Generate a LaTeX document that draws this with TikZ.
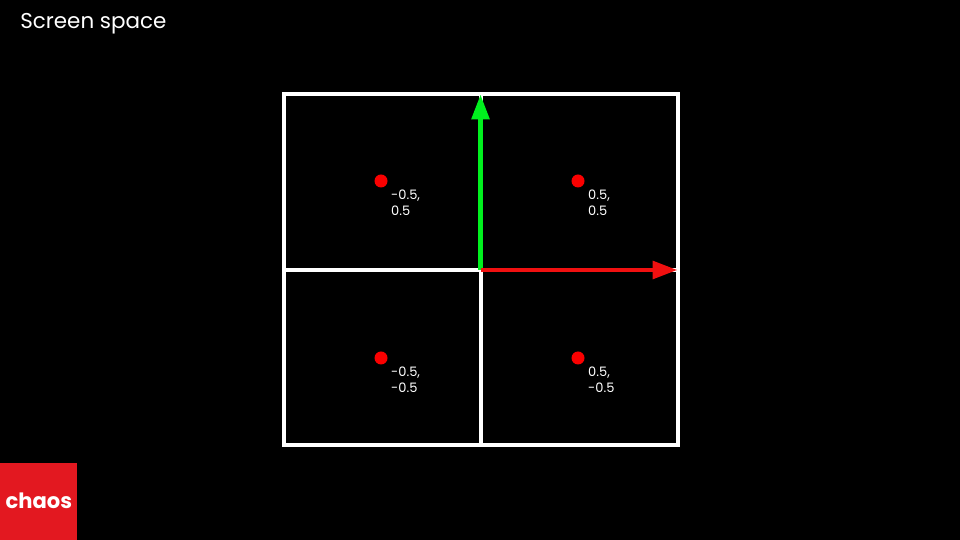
\documentclass[tikz,border=0pt]{standalone}
\usepackage{fontspec}
\setmainfont{Poppins}
\usepackage{xcolor}
\usetikzlibrary{arrows.meta, positioning}
\definecolor{chaosred}{RGB}{227, 24, 32}
\definecolor{axisred}{RGB}{240, 16, 16}
\definecolor{axisgreen}{RGB}{0, 240, 30}
\definecolor{dotred}{RGB}{250, 0, 0}
\begin{document}
\begin{tikzpicture}[
    cell/.style={draw=white, line width=0.08cm, minimum width=3.94cm,
                 minimum height=3.51cm, inner sep=0pt, outer sep=0pt},
    sample/.style={circle, fill=dotred, minimum size=0.26cm, inner sep=0pt},
    lbl/.style={text=white, font=\fontsize{7.4}{9.1}\selectfont, align=left,
                inner sep=0pt},
    arrow/.style={-{Triangle[length=0.5cm, width=0.35cm]}, line width=0.09cm},
  ]
    \useasboundingbox[fill=black] (0,0) rectangle (19.2,10.8);

    % Grid
    \coordinate (center) at (9.61,5.4);
    \node[cell, anchor=south east] (tl) at (center) {};
    \node[cell, anchor=south west] (tr) at (center) {};
    \node[cell, anchor=north east] (bl) at (center) {};
    \node[cell, anchor=north west] (br) at (center) {};

    % Samples
    \node[sample] (stl) at (7.62,7.18) {};
    \node[sample] (str) at (11.56,7.18) {};
    \node[sample] (sbl) at (7.62,3.64) {};
    \node[sample] (sbr) at (11.56,3.64) {};
    \node[lbl, anchor=north west] (ltl) at ([xshift=0.1cm, yshift=-0.08cm]stl.south east) {-0.5,\\0.5};
    \node[lbl, anchor=north west] (ltr) at ([xshift=0.1cm, yshift=-0.08cm]str.south east) {0.5,\\0.5};
    \node[lbl, anchor=north west] (lbl) at ([xshift=0.1cm, yshift=-0.08cm]sbl.south east) {-0.5,\\-0.5};
    \node[lbl, anchor=north west] (lbr) at ([xshift=0.1cm, yshift=-0.08cm]sbr.south east) {0.5,\\-0.5};

    % Axes
    \draw[arrow, axisgreen] (center) -- (tr.north west);
    \draw[arrow, axisred] (center) -- (tr.south east);

    % Title
    \node[text=white, font=\fontsize{12.2}{14}\selectfont, anchor=west, inner sep=0pt]
      (title) at (0.40,10.32) {Screen space};

    % Logo
    \node[fill=chaosred, minimum size=1.54cm, inner sep=0pt, anchor=south west,
          text=white, font=\fontsize{12}{14}\selectfont\bfseries] (logo) at (0,0) {chaos};
\end{tikzpicture}
\end{document}
